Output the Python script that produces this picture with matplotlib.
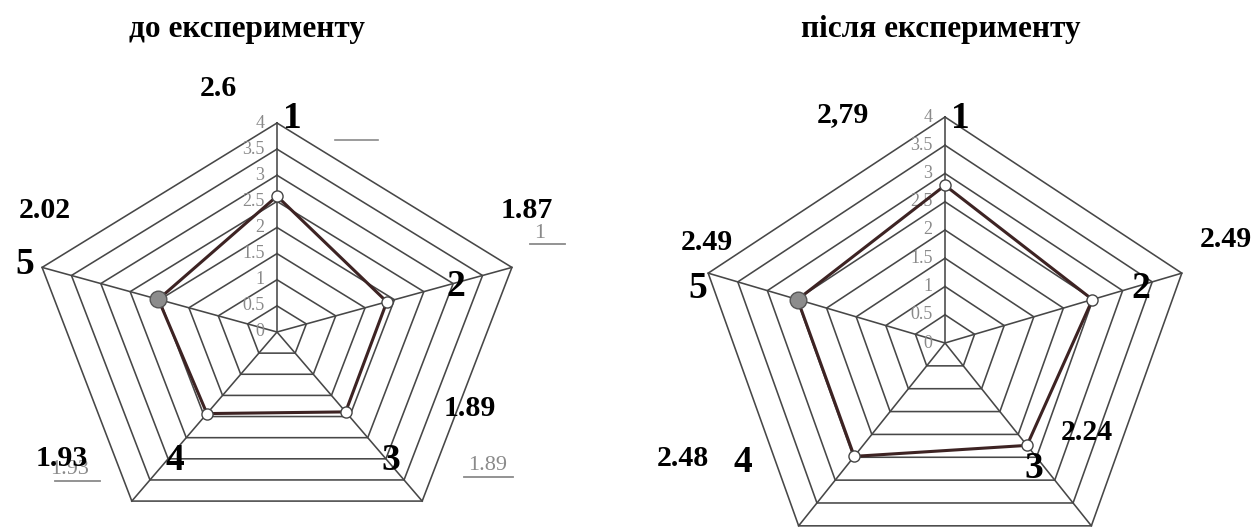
import numpy as np
import matplotlib
matplotlib.use("Agg")
import matplotlib.pyplot as plt
from matplotlib.lines import Line2D

plt.rcParams["font.family"] = ["Liberation Serif", "DejaVu Serif"]

W, H = 1255, 527
GRID = "#474747"
LINE = "#3d2323"
MUTED = "#8a8a8a"

# scores on the five criteria
axis_names = ["1", "2", "3", "4", "5"]
before = [2.6, 1.87, 1.89, 1.93, 2.02]
after = [2.79, 2.49, 2.24, 2.48, 2.49]
before_text = ["2.6", "1.87", "1.89", "1.93", "2.02"]
after_text = ["2,79", "2.49", "2.24", "2.48", "2.49"]
rings = [0.5, 1, 1.5, 2, 2.5, 3, 3.5, 4]
tick_vals = [0, 0.5, 1, 1.5, 2, 2.5, 3, 3.5, 4]
tick_text = ["0", "0.5", "1", "1.5", "2", "2.5", "3", "3.5", "4"]
VMAX = 4

fig = plt.figure(figsize=(W / 100, H / 100), dpi=100)
fig.patch.set_facecolor("white")

theta = np.pi / 2 - np.arange(5) * 2 * np.pi / 5
ux, uy = np.cos(theta), np.sin(theta)


def px(x, y):
    return x / W, 1 - y / H


def radar(box, center, rx, ry, values):
    # box and center in pixels (y down); rx/ry = pixel length of VMAX
    x0, y0, x1, y1 = box
    ax = fig.add_axes([x0 / W, 1 - y1 / H, (x1 - x0) / W, (y1 - y0) / H])
    kx, ky = VMAX / rx, VMAX / ry
    ax.set_xlim((x0 - center[0]) * kx, (x1 - center[0]) * kx)
    ax.set_ylim((center[1] - y1) * ky, (center[1] - y0) * ky)
    ax.axis("off")

    for r in rings:
        ax.plot(np.append(r * ux, r * ux[0]), np.append(r * uy, r * uy[0]),
                color=GRID, lw=1.15, zorder=1)
    for i in range(5):
        ax.plot([0, VMAX * ux[i]], [0, VMAX * uy[i]], color=GRID, lw=1.15, zorder=1)
    for v, t in zip(tick_vals, tick_text):
        ax.annotate(t, (0, v), xytext=(-9, 0), textcoords="offset points",
                    ha="right", va="center", color=MUTED, fontsize=13)

    v = np.array(values)
    xs, ys = v * ux, v * uy
    ax.plot(np.append(xs, xs[0]), np.append(ys, ys[0]), color=LINE, lw=2.2, zorder=3)
    ax.plot(xs[:4], ys[:4], "o", ms=8, mfc="white", mec="#444444", mew=1.0, zorder=4)
    ax.plot(xs[4:], ys[4:], "o", ms=12, mfc="#8c8c8c", mec="#555555", mew=1.0, zorder=4)
    return ax


radar((0, 60, 620, 527), (277, 332), 247, 209, before)
radar((630, 60, 1255, 527), (945, 343), 249, 226, after)

# titles
fig.text(*px(247, 30), "до експерименту", ha="center", va="center",
         fontsize=22.5, fontweight="bold")
fig.text(*px(941, 30), "після експерименту", ha="center", va="center",
         fontsize=22.5, fontweight="bold")

# axis numbers
name_pos_left = [(292, 118), (456, 286), (391, 460), (175, 460), (25, 265)]
name_pos_right = [(960, 118), (1141, 288), (1034, 468), (743, 462), (698, 288)]
for names, pos in ((axis_names, name_pos_left), (axis_names, name_pos_right)):
    for s, (x, y) in zip(names, pos):
        fig.text(*px(x, y), s, ha="center", va="center", fontsize=27, fontweight="bold")

# value labels
val_pos_left = [(218, 88), (527, 210), (470, 408), (62, 458), (45, 211)]
val_pos_right = [(843, 115), (1226, 240), (1087, 433), (683, 458), (707, 242)]
for labels, pos in ((before_text, val_pos_left), (after_text, val_pos_right)):
    for s, (x, y) in zip(labels, pos):
        fig.text(*px(x, y), s, ha="center", va="center", fontsize=21.5, fontweight="bold")

# leftover grey captions with underlines
grey_notes = [("1", 540, 233, 530, 565), ("1.89", 488, 466, 464, 513), ("1.93", 70, 470, 55, 100)]
for s, x, y, ua, ub in grey_notes:
    fig.text(*px(x, y), s, ha="center", va="center", fontsize=16, color=MUTED, zorder=0)
    fig.add_artist(Line2D([ua / W, ub / W], [1 - (y + 11) / H] * 2, color=MUTED, lw=1.3))
fig.add_artist(Line2D([335 / W, 378 / W], [1 - 140 / H] * 2, color=MUTED, lw=1.2))

fig.savefig("out.png", dpi=100, facecolor="white")
